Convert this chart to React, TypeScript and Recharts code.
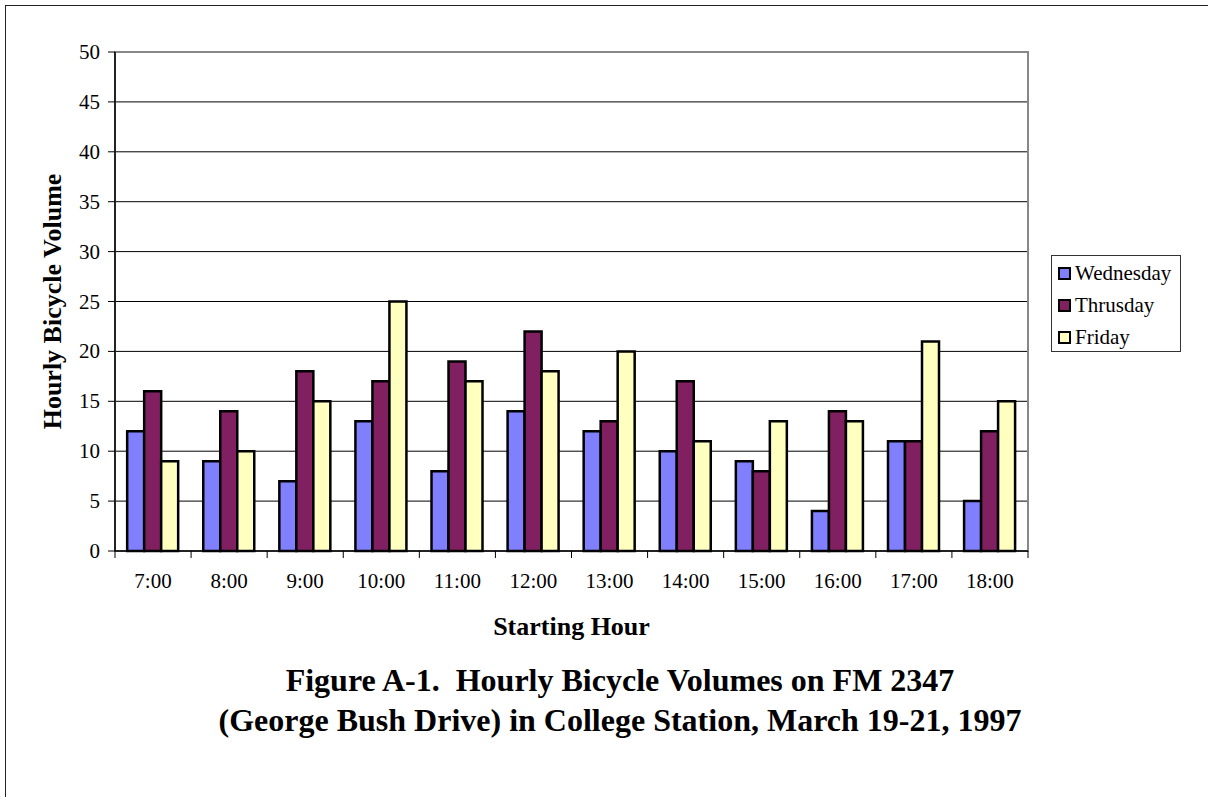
import { BarChart, Bar, XAxis, YAxis, CartesianGrid, ReferenceArea } from "recharts"

const hours = ["7:00", "8:00", "9:00", "10:00", "11:00", "12:00", "13:00", "14:00", "15:00", "16:00", "17:00", "18:00"]
const wednesday = [12, 9, 7, 13, 8, 14, 12, 10, 9, 4, 11, 5]
const thrusday = [16, 14, 18, 17, 19, 22, 13, 17, 8, 14, 11, 12]
const friday = [9, 10, 15, 25, 17, 18, 20, 11, 13, 13, 21, 15]
const yTicks = [0, 5, 10, 15, 20, 25, 30, 35, 40, 45, 50]

const series = [
  { key: "Wednesday", color: "#8080FF" },
  { key: "Thrusday", color: "#802060" },
  { key: "Friday", color: "#FFFFC0" },
]

const data = hours.map((h, i) => ({
  hour: h,
  Wednesday: wednesday[i],
  Thrusday: thrusday[i],
  Friday: friday[i],
}))

const FONT = "'Liberation Serif', 'Times New Roman', serif"
const PLOT_LEFT = 115
const PLOT_RIGHT = 1028
const PLOT_BOTTOM = 551
const BAND = (PLOT_RIGHT - PLOT_LEFT) / hours.length

function HourTick(props: any) {
  const { x, payload, index } = props
  const left = x - BAND / 2
  return (
    <g>
      <line x1={left} x2={left} y1={PLOT_BOTTOM} y2={PLOT_BOTTOM + 7} stroke="#000" />
      {index === hours.length - 1 && (
        <line x1={left + BAND} x2={left + BAND} y1={PLOT_BOTTOM} y2={PLOT_BOTTOM + 7} stroke="#000" />
      )}
      <text x={x} y={PLOT_BOTTOM + 37} textAnchor="middle" fontSize={21} fontFamily={FONT} fill="#000">
        {payload.value}
      </text>
    </g>
  )
}

function ValueTick(props: any) {
  const { x, y, payload } = props
  return (
    <text x={x} y={y + 7} textAnchor="end" fontSize={21} fontFamily={FONT} fill="#000">
      {payload.value}
    </text>
  )
}

export default function App() {
  return (
    <div
      style={{
        position: "absolute",
        left: 0,
        top: 0,
        width: 1208,
        height: 797,
        overflow: "hidden",
        background: "#fff",
        fontFamily: FONT,
      }}
    >
      <div
        style={{
          position: "absolute",
          left: 5,
          top: 5,
          width: 1220,
          height: 810,
          border: "1.5px solid #222",
        }}
      />
      <BarChart
        width={1208}
        height={797}
        data={data}
        margin={{ top: 52, left: 55, right: 180, bottom: 216 }}
        barCategoryGap="16%"
        barGap={0}
        style={{ position: "absolute", left: 0, top: 0, fontFamily: FONT }}
      >
        <CartesianGrid vertical={false} stroke="#000" strokeWidth={1} />
        <ReferenceArea y1={0} y2={50} fill="none" stroke="#888" strokeWidth={2} />
        <XAxis
          dataKey="hour"
          height={30}
          tickLine={false}
          axisLine={{ stroke: "#000", strokeWidth: 1.5 }}
          tick={<HourTick />}
          interval={0}
          label={{
            value: "Starting Hour",
            position: "insideBottom",
            offset: -54,
            fontSize: 26,
            fontWeight: "bold",
            fontFamily: FONT,
            fill: "#000",
          }}
        />
        <YAxis
          width={60}
          domain={[0, 50]}
          ticks={yTicks}
          interval={0}
          tickSize={7}
          tickMargin={8}
          tickLine={{ stroke: "#000" }}
          axisLine={{ stroke: "#000", strokeWidth: 1.5 }}
          tick={<ValueTick />}
          label={{
            value: "Hourly Bicycle Volume",
            angle: -90,
            position: "center",
            dx: -33,
            fontSize: 26,
            fontWeight: "bold",
            fontFamily: FONT,
            fill: "#000",
            style: { textAnchor: "middle" },
          }}
        />
        {series.map((s) => (
          <Bar key={s.key} dataKey={s.key} fill={s.color} stroke="#000" strokeWidth={2.5} isAnimationActive={false} />
        ))}
      </BarChart>
      <div
        style={{
          position: "absolute",
          left: 1051,
          top: 255,
          width: 130,
          height: 97,
          border: "1px solid #333",
          background: "#fff",
          boxSizing: "border-box",
          padding: "1px 0 0 6px",
          fontSize: 21,
          color: "#000",
        }}
      >
        {series.map((s) => (
          <div key={s.key} style={{ display: "flex", alignItems: "center", height: 32 }}>
            <span
              style={{
                display: "inline-block",
                width: 9,
                height: 9,
                background: s.color,
                border: "2px solid #000",
                marginRight: 4,
              }}
            />
            {s.key}
          </div>
        ))}
      </div>
      <div
        style={{
          position: "absolute",
          left: 0,
          width: 1240,
          top: 660,
          textAlign: "center",
          fontWeight: "bold",
          fontSize: 32,
          lineHeight: "40px",
          color: "#000",
        }}
      >
        <div>Figure A-1.&nbsp; Hourly Bicycle Volumes on FM 2347</div>
        <div>(George Bush Drive) in College Station, March 19-21, 1997</div>
      </div>
    </div>
  )
}
